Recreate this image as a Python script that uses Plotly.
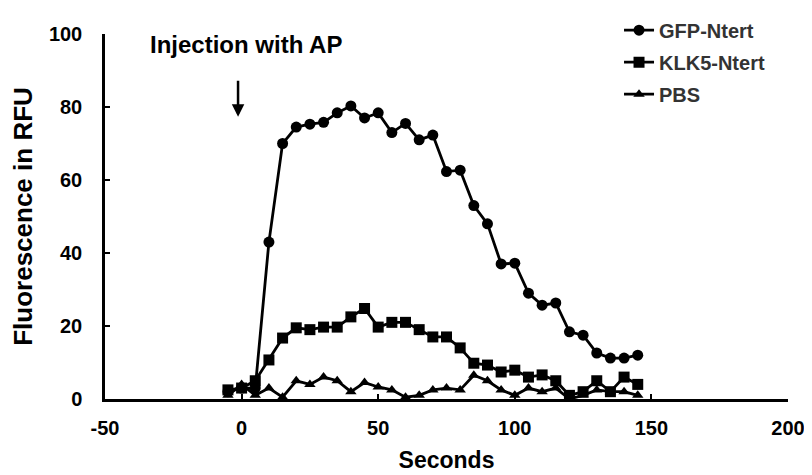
import plotly.graph_objects as go

seconds = [-5, 0, 5, 10, 15, 20, 25, 30, 35, 40, 45, 50, 55, 60, 65, 70, 75, 80,
           85, 90, 95, 100, 105, 110, 115, 120, 125, 130, 135, 140, 145]
gfp = [2, 3, 3, 43, 70, 74.5, 75.3, 75.8, 78.4, 80.3, 77, 78.4, 73, 75.5, 71, 72.3,
       62.3, 62.7, 53, 48, 37, 37.2, 29, 25.7, 26.3, 18.4, 17.5, 12.6, 11.2, 11.2, 12]
klk5 = [2.5, 3, 5, 10.7, 16.7, 19.5, 19, 19.7, 19.7, 22.5, 24.8, 19.7, 21, 21, 19,
        17, 17, 14, 9.8, 9.3, 7.4, 7.9, 6, 6.6, 5, 1, 2, 5, 2, 6, 4]
pbs = [1, 4, 1, 3, 0.5, 5, 4, 6, 5, 2, 4.5, 3.3, 2.5, 0.5, 1, 2.5, 3, 2.5, 6.5, 5,
       2.5, 1, 3, 2, 3, 0, 1, 2.5, 2, 2, 1]

series_names = ["GFP-Ntert", "KLK5-Ntert", "PBS"]
x_ticks = [-50, 0, 50, 100, 150, 200]
x_tick_labels = ["-50", "0", "50", "100", "150", "200"]
y_ticks = [0, 20, 40, 60, 80, 100]

FONT = "Liberation Sans"

fig = go.Figure()
symbols = ["circle", "square", "triangle-up"]
msizes = [11, 11, 10]
for name, vals, sym, ms in zip(series_names, [gfp, klk5, pbs], symbols, msizes):
    fig.add_trace(go.Scatter(
        x=seconds, y=vals, name=name, mode="lines+markers",
        legendgroup=name,
        line=dict(color="black", width=2.8),
        marker=dict(symbol=sym, size=ms, color="black"),
    ))

fig.add_annotation(
    x=-1.3, y=77.3, ax=-1.3, ay=87.6, xref="x", yref="y", axref="x", ayref="y",
    showarrow=True, arrowhead=2, arrowsize=1, arrowwidth=2.5, arrowcolor="black",
    text="",
)
fig.add_annotation(
    x=-34.3, y=97, xref="x", yref="y", text="Injection with AP", showarrow=False,
    xanchor="left", yanchor="middle",
    font=dict(family=FONT, size=24, color="black", weight="bold"),
)

fig.update_layout(
    width=812, height=475,
    margin=dict(l=97, r=32, t=26, b=84, autoexpand=False),
    paper_bgcolor="white", plot_bgcolor="white",
    font=dict(family=FONT, size=20, color="black", weight="bold"),
    legend=dict(
        x=0.7526, y=1.064, xanchor="left", yanchor="top",
        font=dict(family=FONT, size=20, color="#333", weight="bold"),
        tracegroupgap=3, bgcolor="rgba(0,0,0,0)", itemwidth=30,
    ),
    showlegend=True,
)
fig.update_xaxes(
    range=[-50, 200], tickvals=x_ticks, ticktext=x_tick_labels,
    ticks="inside", ticklen=5, tickwidth=2,
    tickcolor="black", showline=True, linecolor="black", linewidth=2.5,
    showgrid=False, zeroline=False, automargin=False, ticklabelstandoff=9,
    tickfont=dict(family=FONT, size=20, weight="bold"),
    title=dict(text="Seconds", font=dict(family=FONT, size=23, weight="bold"), standoff=15),
)
fig.update_yaxes(
    range=[0, 100], tickvals=y_ticks, ticks="inside", ticklen=5, tickwidth=2,
    tickcolor="black", showline=True, linecolor="black", linewidth=2.5,
    showgrid=False, zeroline=False, automargin=False, ticklabelstandoff=16,
    tickfont=dict(family=FONT, size=20, weight="bold"),
    title=dict(text="Fluorescence in RFU", font=dict(family=FONT, size=26, weight="bold"), standoff=12),
)

fig.write_html("out.html")
